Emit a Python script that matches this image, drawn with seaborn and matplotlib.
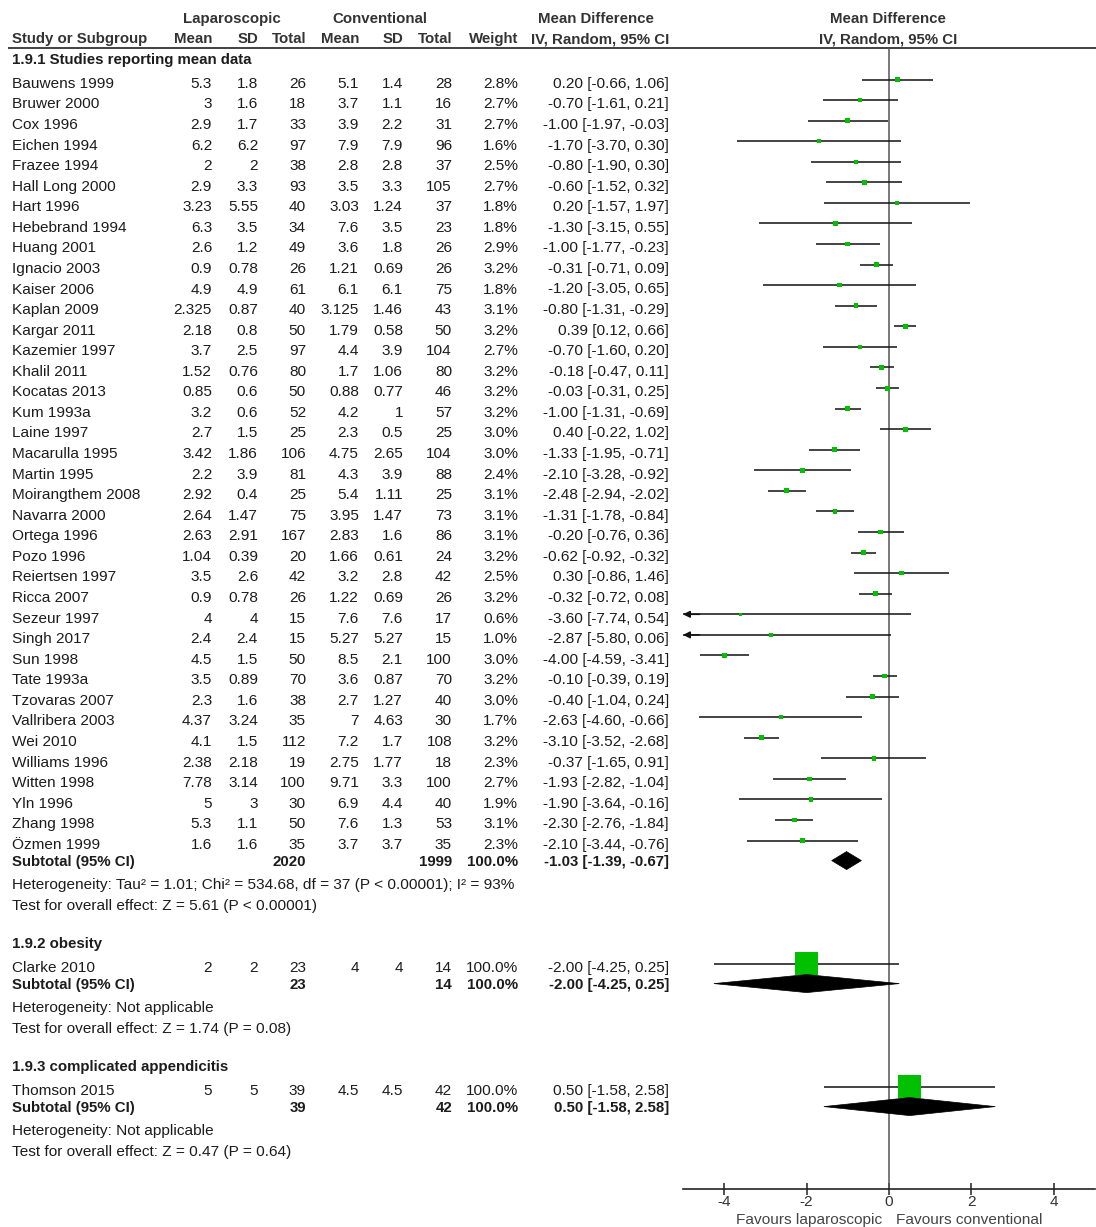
import numpy as np
import pandas as pd
import matplotlib
matplotlib.use("Agg")
import matplotlib.pyplot as plt
import seaborn as sns
from matplotlib.patches import Polygon

# ---------------- data ----------------
studies = ["Bauwens 1999", "Bruwer 2000", "Cox 1996", "Eichen 1994", "Frazee 1994",
           "Hall Long 2000", "Hart 1996", "Hebebrand 1994", "Huang 2001", "Ignacio 2003",
           "Kaiser 2006", "Kaplan 2009", "Kargar 2011", "Kazemier 1997", "Khalil 2011",
           "Kocatas 2013", "Kum 1993a", "Laine 1997", "Macarulla 1995", "Martin 1995",
           "Moirangthem 2008", "Navarra 2000", "Ortega 1996", "Pozo 1996", "Reiertsen 1997",
           "Ricca 2007", "Sezeur 1997", "Singh 2017", "Sun 1998", "Tate 1993a",
           "Tzovaras 2007", "Vallribera 2003", "Wei 2010", "Williams 1996", "Witten 1998",
           "Yln 1996", "Zhang 1998", "Özmen 1999",
           "Clarke 2010",
           "Thomson 2015"]
group = [0] * 38 + [1] + [2]
lap_mean = [5.3, 3, 2.9, 6.2, 2, 2.9, 3.23, 6.3, 2.6, 0.9, 4.9, 2.325, 2.18, 3.7, 1.52,
            0.85, 3.2, 2.7, 3.42, 2.2, 2.92, 2.64, 2.63, 1.04, 3.5, 0.9, 4, 2.4, 4.5, 3.5,
            2.3, 4.37, 4.1, 2.38, 7.78, 5, 5.3, 1.6, 2, 5]
lap_sd = [1.8, 1.6, 1.7, 6.2, 2, 3.3, 5.55, 3.5, 1.2, 0.78, 4.9, 0.87, 0.8, 2.5, 0.76,
          0.6, 0.6, 1.5, 1.86, 3.9, 0.4, 1.47, 2.91, 0.39, 2.6, 0.78, 4, 2.4, 1.5, 0.89,
          1.6, 3.24, 1.5, 2.18, 3.14, 3, 1.1, 1.6, 2, 5]
lap_n = [26, 18, 33, 97, 38, 93, 40, 34, 49, 26, 61, 40, 50, 97, 80, 50, 52, 25, 106, 81,
         25, 75, 167, 20, 42, 26, 15, 15, 50, 70, 38, 35, 112, 19, 100, 30, 50, 35, 23, 39]
con_mean = [5.1, 3.7, 3.9, 7.9, 2.8, 3.5, 3.03, 7.6, 3.6, 1.21, 6.1, 3.125, 1.79, 4.4, 1.7,
            0.88, 4.2, 2.3, 4.75, 4.3, 5.4, 3.95, 2.83, 1.66, 3.2, 1.22, 7.6, 5.27, 8.5, 3.6,
            2.7, 7, 7.2, 2.75, 9.71, 6.9, 7.6, 3.7, 4, 4.5]
con_sd = [1.4, 1.1, 2.2, 7.9, 2.8, 3.3, 1.24, 3.5, 1.8, 0.69, 6.1, 1.46, 0.58, 3.9, 1.06,
          0.77, 1, 0.5, 2.65, 3.9, 1.11, 1.47, 1.6, 0.61, 2.8, 0.69, 7.6, 5.27, 2.1, 0.87,
          1.27, 4.63, 1.7, 1.77, 3.3, 4.4, 1.3, 3.7, 4, 4.5]
con_n = [28, 16, 31, 96, 37, 105, 37, 23, 26, 26, 75, 43, 50, 104, 80, 46, 57, 25, 104, 88,
         25, 73, 86, 24, 42, 26, 17, 15, 100, 70, 40, 30, 108, 18, 100, 40, 53, 35, 14, 42]
weight = [2.8, 2.7, 2.7, 1.6, 2.5, 2.7, 1.8, 1.8, 2.9, 3.2, 1.8, 3.1, 3.2, 2.7, 3.2,
          3.2, 3.2, 3.0, 3.0, 2.4, 3.1, 3.1, 3.1, 3.2, 2.5, 3.2, 0.6, 1.0, 3.0, 3.2,
          3.0, 1.7, 3.2, 2.3, 2.7, 1.9, 3.1, 2.3, 100.0, 100.0]
md = [0.20, -0.70, -1.00, -1.70, -0.80, -0.60, 0.20, -1.30, -1.00, -0.31, -1.20, -0.80,
      0.39, -0.70, -0.18, -0.03, -1.00, 0.40, -1.33, -2.10, -2.48, -1.31, -0.20, -0.62,
      0.30, -0.32, -3.60, -2.87, -4.00, -0.10, -0.40, -2.63, -3.10, -0.37, -1.93, -1.90,
      -2.30, -2.10, -2.00, 0.50]
ci_lo = [-0.66, -1.61, -1.97, -3.70, -1.90, -1.52, -1.57, -3.15, -1.77, -0.71, -3.05, -1.31,
         0.12, -1.60, -0.47, -0.31, -1.31, -0.22, -1.95, -3.28, -2.94, -1.78, -0.76, -0.92,
         -0.86, -0.72, -7.74, -5.80, -4.59, -0.39, -1.04, -4.60, -3.52, -1.65, -2.82, -3.64,
         -2.76, -3.44, -4.25, -1.58]
ci_hi = [1.06, 0.21, -0.03, 0.30, 0.30, 0.32, 1.97, 0.55, -0.23, 0.09, 0.65, -0.29,
         0.66, 0.20, 0.11, 0.25, -0.69, 1.02, -0.71, -0.92, -2.02, -0.84, 0.36, -0.32,
         1.46, 0.08, 0.54, 0.06, -3.41, 0.19, 0.24, -0.66, -2.68, 0.91, -1.04, -0.16,
         -1.84, -0.76, 0.25, 2.58]

group_titles = ["1.9.1 Studies reporting mean data", "1.9.2 obesity", "1.9.3 complicated appendicitis"]
sub_n_lap = [2020, 23, 39]
sub_n_con = [1999, 14, 42]
sub_weight = [100.0, 100.0, 100.0]
sub_md = [-1.03, -2.00, 0.50]
sub_lo = [-1.39, -4.25, -1.58]
sub_hi = [-0.67, 0.25, 2.58]
het_text = ["Heterogeneity: Tau² = 1.01; Chi² = 534.68, df = 37 (P < 0.00001); I² = 93%",
            "Heterogeneity: Not applicable",
            "Heterogeneity: Not applicable"]
test_text = ["Test for overall effect: Z = 5.61 (P < 0.00001)",
             "Test for overall effect: Z = 1.74 (P = 0.08)",
             "Test for overall effect: Z = 0.47 (P = 0.64)"]
x_ticks = [-4, -2, 0, 2, 4]
x_ticklabels = ["-4", "-2", "0", "2", "4"]
favours_left = "Favours laparoscopic"
favours_right = "Favours conventional"

# ---------------- style ----------------
sns.set_theme(style="white")
plt.rcParams["font.family"] = ["Liberation Sans", "DejaVu Sans"]
TXT = "#1c1c1c"
FS = 11.1
FS_B = 10.8
GREEN = "#00c000"

W, H = 1096, 1227
fig = plt.figure(figsize=(W / 100, H / 100), dpi=100)
tab = fig.add_axes([0, 0, 1, 1])
tab.set_xlim(0, W)
tab.set_ylim(H, 0)
tab.axis("off")

AX_L, AX_R, AX_TOP, AX_BOT = 683, 1095, 48, 1189
ax = fig.add_axes([AX_L / W, (H - AX_BOT) / H, (AX_R - AX_L) / W, (AX_BOT - AX_TOP) / H])
ax.set_facecolor("none")
XMIN, XMAX = -5, 5


def put(x, y, s, ha="left", bold=False, color=TXT):
    tab.text(x, y + 5.3, s, ha=ha, va="baseline", fontsize=FS_B if bold else FS,
             fontweight="bold" if bold else "normal", color=color)


# column right edges
C_NAME, C_LM, C_LSD, C_LN, C_CM, C_CSD, C_CN, C_W, C_CI = 12, 212, 258, 306, 359, 403, 452, 518, 669

# header
put(232, 18, "Laparoscopic", ha="center", bold=True, color="#333333")
put(380, 18, "Conventional", ha="center", bold=True, color="#333333")
put(596, 18, "Mean Difference", ha="center", bold=True, color="#333333")
put(888, 18, "Mean Difference", ha="center", bold=True, color="#333333")
put(C_NAME, 38, "Study or Subgroup", bold=True, color="#333333")
for xr, lab in [(C_LM, "Mean"), (C_LSD, "SD"), (C_LN, "Total"), (C_CM, "Mean"),
                (C_CSD, "SD"), (C_CN, "Total"), (C_W, "Weight"), (C_CI, "IV, Random, 95% CI")]:
    put(xr, 38, lab, ha="right", bold=True, color="#333333")
put(888, 38, "IV, Random, 95% CI", ha="center", bold=True, color="#333333")
tab.plot([8, W], [48, 48], color="#333333", lw=1.3, solid_capstyle="butt")


def fmt(v):
    return "{:g}".format(v)


def ci_str(m, l, h):
    return "{:.2f} [{:.2f}, {:.2f}]".format(m, l, h)


# layout rows
ys = np.zeros(len(studies))
sub_y = []
y = 59.0
for g in range(3):
    put(C_NAME, y, group_titles[g], bold=True)
    y += 23.5
    idx = [i for i in range(len(studies)) if group[i] == g]
    for k, i in enumerate(idx):
        ys[i] = y + k * 20.57
    y = ys[idx[-1]] + 17
    sub_y.append(y)
    put(C_NAME, y, "Subtotal (95% CI)", bold=True)
    put(C_LN, y, str(sub_n_lap[g]), ha="right", bold=True)
    put(C_CN, y, str(sub_n_con[g]), ha="right", bold=True)
    put(C_W, y, "{:.1f}%".format(sub_weight[g]), ha="right", bold=True)
    put(C_CI, y, ci_str(sub_md[g], sub_lo[g], sub_hi[g]), ha="right", bold=True)
    y += 23
    put(C_NAME, y, het_text[g])
    y += 21
    put(C_NAME, y, test_text[g])
    y += 38.5

for i, s in enumerate(studies):
    yy = ys[i]
    put(C_NAME, yy, s)
    put(C_LM, yy, fmt(lap_mean[i]), ha="right")
    put(C_LSD, yy, fmt(lap_sd[i]), ha="right")
    put(C_LN, yy, str(lap_n[i]), ha="right")
    put(C_CM, yy, fmt(con_mean[i]), ha="right")
    put(C_CSD, yy, fmt(con_sd[i]), ha="right")
    put(C_CN, yy, str(con_n[i]), ha="right")
    put(C_W, yy, "{:.1f}%".format(weight[i]), ha="right")
    put(C_CI, yy, ci_str(md[i], ci_lo[i], ci_hi[i]), ha="right")

# ---------------- forest panel ----------------
df = pd.DataFrame({"study": studies, "md": md, "lo": ci_lo, "hi": ci_hi,
                   "w": weight, "y": ys - 3})
ax.axvline(0, color="#555555", lw=1.1, zorder=1)
lo_c = np.clip(df["lo"], XMIN, XMAX)
hi_c = np.clip(df["hi"], XMIN, XMAX)
ax.hlines(df["y"], lo_c, hi_c, color="#111111", lw=1.1, zorder=2)
for _, r in df[df["lo"] < XMIN].iterrows():
    ax.annotate("", xy=(XMIN, r["y"]), xytext=(XMIN + 0.4, r["y"]),
                arrowprops=dict(arrowstyle="-|>", color="#111111", lw=1.1,
                                mutation_scale=10, shrinkA=0, shrinkB=0), zorder=2)

sns.scatterplot(data=df, x="md", y="y", size="w", sizes=(4.0, 274), size_norm=(0, 100),
                marker="s", color=GREEN, edgecolor="none", linewidth=0, legend=False,
                ax=ax, zorder=3)

for g in range(3):
    yc = sub_y[g]
    poly = Polygon([(sub_lo[g], yc), (sub_md[g], yc - 9), (sub_hi[g], yc), (sub_md[g], yc + 9)],
                   closed=True, facecolor="black", edgecolor="black", lw=0.5, zorder=4)
    ax.add_patch(poly)

ax.set_xlim(XMIN, XMAX)
ax.set_ylim(AX_BOT, AX_TOP)
ax.set_yticks([])
ax.set_xticks(x_ticks)
ax.set_xticklabels(x_ticklabels)
ax.set_xlabel("")
ax.set_ylabel("")
ax.grid(False)
for sp in ["top", "left", "right"]:
    ax.spines[sp].set_visible(False)
ax.spines["bottom"].set_color("#222222")
ax.spines["bottom"].set_linewidth(1.2)
ax.tick_params(axis="x", direction="inout", length=9, width=1.1, color="#222222",
               labelsize=FS, labelcolor="#333333", pad=0, bottom=True)

put(882, 1219, favours_left, ha="right", color="#444444")
put(896, 1219, favours_right, ha="left", color="#444444")

fig.savefig("out.png", dpi=100)
